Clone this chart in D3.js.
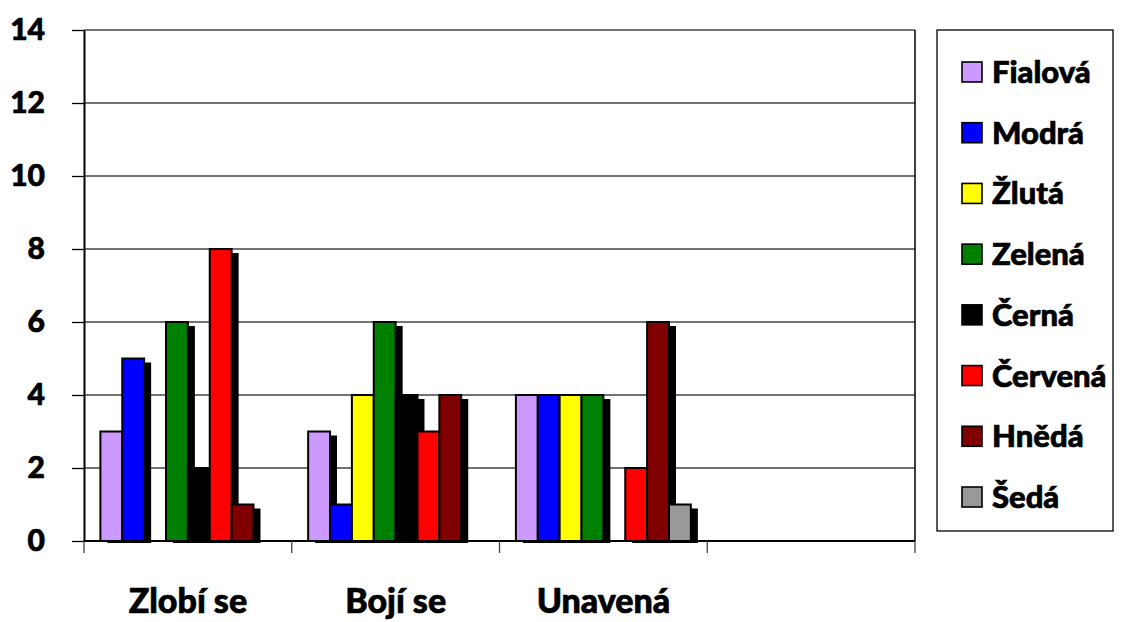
<!DOCTYPE html>
<html>
<head>
<meta charset="utf-8">
<title>Emoce a barvy</title>
<script src="https://cdn.jsdelivr.net/npm/d3@7"></script>
<style>
  body { margin: 0; background: #fff; }
  text { font-family: Lato, "Open Sans", sans-serif; font-weight: 900; fill: #000;
         stroke: #000; stroke-width: 0.7px; }
</style>
</head>
<body>
<div id="chart"></div>
<script>
// categories along x (the 4th one is empty in the original)
var categories = ["Zlobí se", "Bojí se", "Unavená", ""];
var seriesNames = ["Fialová", "Modrá", "Žlutá", "Zelená", "Černá", "Červená", "Hnědá", "Šedá"];
var seriesColors = ["#cc99ff", "#0000ff", "#ffff00", "#008000", "#000000", "#ff0000", "#800000", "#999999"];
// values[series][category]
var fialova  = [3, 3, 4, 0];
var modra    = [5, 1, 4, 0];
var zluta    = [0, 4, 4, 0];
var zelena   = [6, 6, 4, 0];
var cerna    = [2, 4, 0, 0];
var cervena  = [8, 3, 2, 0];
var hneda    = [1, 4, 6, 0];
var seda     = [0, 0, 1, 0];
var values = [fialova, modra, zluta, zelena, cerna, cervena, hneda, seda];
var yTicks = [0, 2, 4, 6, 8, 10, 12, 14];

var width = 1125, height = 622;
var plot = { left: 84, right: 915, top: 30, bottom: 541 };

var svg = d3.select("#chart").append("svg")
    .attr("width", width)
    .attr("height", height);

var x0 = d3.scaleBand()
    .domain(d3.range(categories.length))
    .range([plot.left, plot.right])
    .paddingInner(0).paddingOuter(0);

// 8 bars plus 150% gap split on both sides
var bw = x0.bandwidth() / (seriesNames.length + 1.5);
var x1 = d3.scaleBand()
    .domain(d3.range(seriesNames.length))
    .range([bw * 0.75, x0.bandwidth() - bw * 0.75]);

var y = d3.scaleLinear().domain([0, 14]).range([plot.bottom, plot.top]);

// gridlines
svg.append("g").selectAll("line")
    .data(yTicks.slice(1))
    .enter().append("line")
    .attr("x1", plot.left).attr("x2", plot.right)
    .attr("y1", function(d) { return y(d); })
    .attr("y2", function(d) { return y(d); })
    .attr("stroke", "#444").attr("stroke-width", 1.3);

// right frame
svg.append("line")
    .attr("x1", plot.right).attr("x2", plot.right)
    .attr("y1", plot.top).attr("y2", plot.bottom)
    .attr("stroke", "#000").attr("stroke-width", 1.5);

// bars (shadow first, then bar)
var flat = [];
values.forEach(function(arr, s) {
    arr.forEach(function(v, c) { if (v > 0) flat.push({ s: s, c: c, v: v }); });
});

var bars = svg.append("g");
flat.forEach(function(d) {
    var bx = x0(d.c) + x1(d.s);
    bars.append("rect")
        .attr("x", bx + 7).attr("y", y(d.v) + 4)
        .attr("width", x1.bandwidth()).attr("height", y(0) - y(d.v) - 2)
        .attr("fill", "#000");
});
flat.forEach(function(d) {
    var bx = x0(d.c) + x1(d.s);
    bars.append("rect")
        .attr("x", bx).attr("y", y(d.v))
        .attr("width", x1.bandwidth()).attr("height", y(0) - y(d.v))
        .attr("fill", seriesColors[d.s])
        .attr("stroke", "#000").attr("stroke-width", 2);
});

// y axis
var yAxis = svg.append("g")
    .attr("transform", "translate(" + plot.left + ",0)")
    .call(d3.axisLeft(y).tickValues(yTicks).tickSize(12).tickSizeOuter(0).tickPadding(27));
yAxis.select(".domain").attr("stroke", "#000").attr("stroke-width", 2);
yAxis.selectAll(".tick line").attr("stroke", "#000").attr("stroke-width", 1.3);
yAxis.selectAll("text").style("font-size", "30px").attr("fill", "#000")
    .attr("font-family", "Lato, sans-serif").attr("font-weight", "900");

// x axis
var xAxis = svg.append("g")
    .attr("transform", "translate(0," + plot.bottom + ")");
xAxis.append("line")
    .attr("x1", plot.left - 1).attr("x2", plot.right)
    .attr("stroke", "#000").attr("stroke-width", 2);
xAxis.selectAll(".xt")
    .data(d3.range(categories.length + 1))
    .enter().append("line")
    .attr("x1", function(i) { return plot.left + i * x0.bandwidth(); })
    .attr("x2", function(i) { return plot.left + i * x0.bandwidth(); })
    .attr("y1", 0).attr("y2", 12)
    .attr("stroke", "#444").attr("stroke-width", 1.3);
xAxis.selectAll(".xl")
    .data(categories)
    .enter().append("text")
    .attr("x", function(d, i) { return x0(i) + x0.bandwidth() / 2; })
    .attr("y", 72)
    .attr("text-anchor", "middle")
    .style("font-size", "34px")
    .text(function(d) { return d; });

// legend
var lg = svg.append("g");
lg.append("rect")
    .attr("x", 937).attr("y", 30).attr("width", 176).attr("height", 501)
    .attr("fill", "#fff").attr("stroke", "#000").attr("stroke-width", 1.3);
var ly = d3.scalePoint().domain(d3.range(seriesNames.length)).range([72, 497]);
seriesNames.forEach(function(name, i) {
    lg.append("rect")
        .attr("x", 962).attr("y", ly(i) - 10)
        .attr("width", 20).attr("height", 20)
        .attr("fill", seriesColors[i]).attr("stroke", "#000").attr("stroke-width", 1.6);
    lg.append("text")
        .attr("x", 992).attr("y", ly(i) + 11)
        .style("font-size", "31px")
        .text(name);
});
</script>
</body>
</html>
